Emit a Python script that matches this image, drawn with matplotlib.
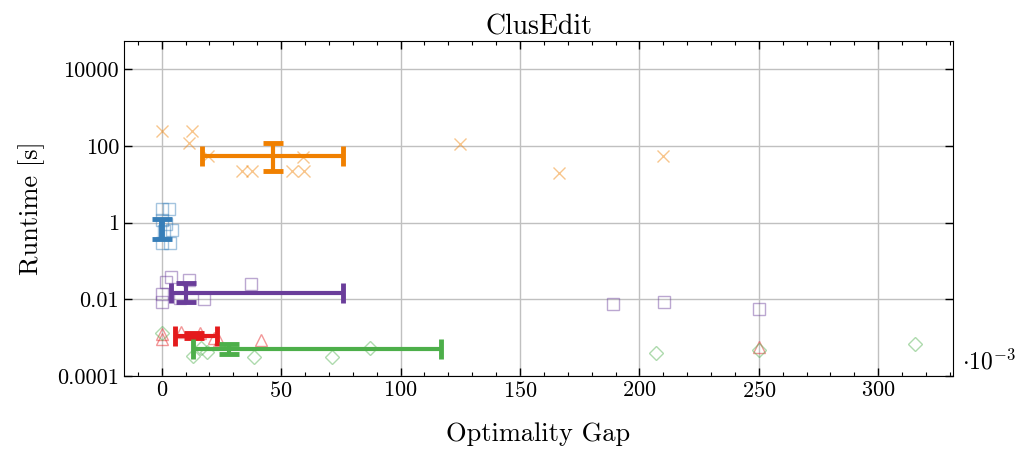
import numpy as np
import matplotlib
matplotlib.use("Agg")
import matplotlib.pyplot as plt
from matplotlib.ticker import FixedLocator, FuncFormatter, MultipleLocator, NullLocator

plt.rcParams['font.family'] = 'serif'
plt.rcParams['font.serif'] = ['cmr10']
plt.rcParams['mathtext.fontset'] = 'cm'
plt.rcParams['axes.formatter.use_mathtext'] = True
plt.rcParams['axes.unicode_minus'] = False

# optimality gap in units of 1e-3, runtime in seconds
orange_gap = [0, 12.5, 11.3, 19.2, 33.5, 38, 59, 54.7, 59.5, 124.7, 166.5, 210]
orange_time = [240, 240, 122, 53, 21.5, 21.5, 50, 21.5, 21.5, 109, 20, 53]

blue_gap = [0, 3, 0, 4.5, 0, 3.5, 1, 2]
blue_time = [2.3, 2.3, 1.2, 0.65, 0.3, 0.3, 0.6, 0.9]

purple_gap = [0, 0, 2, 4, 7.5, 11.3, 17.6, 37.5, 189, 210.5, 250]
purple_time = [0.0141, 0.0087, 0.029, 0.039, 0.0105, 0.031, 0.0102, 0.025, 0.0074, 0.0087, 0.0056]

red_gap = [0, 0, 8, 16, 22, 24, 41.7, 250]
red_time = [0.00126, 0.00093, 0.00141, 0.00135, 0.0010, 0.00083, 0.00089, 0.00058]

green_gap = [0, 13, 16.5, 19, 38.5, 71.5, 87, 207, 250, 315.5]
green_time = [0.00129, 0.000324, 0.000525, 0.000427, 0.000316, 0.000316, 0.000525,
              0.000389, 0.000479, 0.000676]

# summary bars: median with lower / upper quartile
orange_stats = dict(x=46.4, xlo=17, xhi=76, y=53, ylo=21.5, yhi=118)
blue_stats = dict(x=0.0, xlo=-0.3, xhi=0.3, y=0.72, ylo=0.37, yhi=1.27)
purple_stats = dict(x=10, xlo=3.8, xhi=75.7, y=0.0142, ylo=0.0087, yhi=0.026)
red_stats = dict(x=13.5, xlo=5.4, xhi=23.2, y=0.00112, ylo=0.00098, yhi=0.00129)
green_stats = dict(x=28.3, xlo=13.1, xhi=117, y=0.0005, ylo=0.00037, yhi=0.00068)

groups = [
    (orange_gap, orange_time, orange_stats, '#f08000', 'x'),
    (blue_gap, blue_time, blue_stats, '#377eb8', 's'),
    (purple_gap, purple_time, purple_stats, '#6a3d9a', 's'),
    (red_gap, red_time, red_stats, '#e41a1c', '^'),
    (green_gap, green_time, green_stats, '#4daf4a', 'D'),
]

fig = plt.figure(figsize=(10.22, 4.53), dpi=100)
ax = fig.add_axes([0.1213, 0.170, 0.8112, 0.7395])

for gap, t, st, color, marker in groups:
    if marker == 'x':
        ax.plot(gap, t, linestyle='none', marker=marker, ms=8, mew=1.0,
                color=color, alpha=0.45, zorder=2)
    else:
        ax.plot(gap, t, linestyle='none', marker=marker, ms=8 if marker != 'D' else 7,
                mew=1.0, mfc='none', mec=color, alpha=0.45, zorder=2)

for gap, t, st, color, marker in groups:
    xerr = [[st['x'] - st['xlo']], [st['xhi'] - st['x']]]
    yerr = [[st['y'] - st['ylo']], [st['yhi'] - st['y']]]
    ax.errorbar([st['x']], [st['y']], xerr=xerr, yerr=yerr, fmt='none',
                ecolor=color, elinewidth=3, capsize=7, capthick=3.5, zorder=4)

ax.set_yscale('log')
ax.set_ylim(1e-4, 5.4e4)
ax.set_xlim(-15.8, 331.3)
ax.yaxis.set_major_locator(FixedLocator([1e-4, 1e-2, 1, 1e2, 1e4]))
ax.yaxis.set_minor_locator(NullLocator())
ax.yaxis.set_major_formatter(FuncFormatter(lambda v, p: '{:g}'.format(v)))
ax.xaxis.set_major_locator(MultipleLocator(50))
ax.xaxis.set_minor_locator(MultipleLocator(10))

ax.grid(True, which='major', color='#c0c0c0', linewidth=1.0)
ax.set_axisbelow(True)
ax.tick_params(which='both', direction='in', top=True, right=True, labelsize=16)
ax.tick_params(which='major', length=6, width=1)
ax.tick_params(which='minor', length=3, width=0.8)

ax.set_title('ClusEdit', fontsize=20, pad=5)
ax.set_xlabel('Optimality Gap', fontsize=19, labelpad=15.5)
ax.set_ylabel('Runtime [s]', fontsize=19, labelpad=9)
ax.text(1.011, 0.042, r'$\cdot 10^{-3}$', transform=ax.transAxes,
        fontsize=17, va='center', ha='left')

fig.savefig('out.png', dpi=100)
